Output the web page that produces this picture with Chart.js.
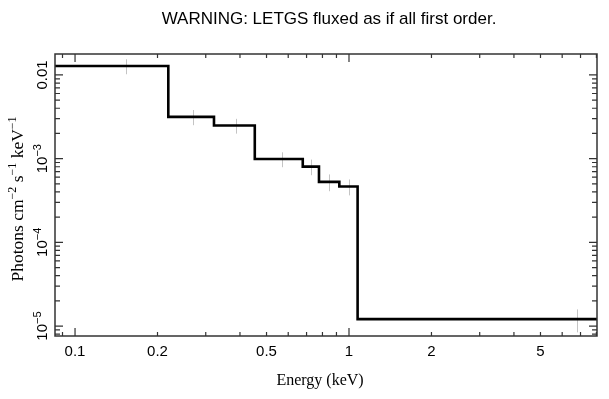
<!DOCTYPE html>
<html>
<head>
<meta charset="utf-8">
<script src="https://cdn.jsdelivr.net/npm/chart.js@4/dist/chart.umd.min.js"></script>
<style>
  html, body { margin: 0; padding: 0; background: #fff; }
</style>
</head>
<body>
<canvas id="chart" width="609" height="399"></canvas>
<script>
// model step: bin edges (keV) and flux level in each bin
const binEdges = [0.08, 0.219, 0.3215, 0.453, 0.678, 0.777, 0.922, 1.075, 9.0];
const modelFlux = [0.0128, 0.00316, 0.00249, 0.00099, 0.000804, 0.000528, 0.000464, 1.21e-5];

// data points (grey crosses)
const dataEnergy = [0.154, 0.270, 0.387, 0.568, 0.729, 0.848, 1.0, 6.77];
const dataFlux = [0.0128, 0.00316, 0.00249, 0.00099, 0.000804, 0.000528, 0.000464, 1.21e-5];
const dataErr = [0.0026, 0.00065, 0.0005, 0.0002, 0.00017, 0.00012, 0.0001, 0.0000037];

// tick labels
const xTickValues = [0.1, 0.2, 0.5, 1, 2, 5];
const xTickLabels = ["0.1", "0.2", "0.5", "1", "2", "5"];
const yTickValues = [0.01, 1e-3, 1e-4, 1e-5];
const yTickLabels = ["0.01", "10^{−3}", "10^{−4}", "10^{−5}"];

const TITLE = "WARNING: LETGS fluxed as if all first order.";
const X_TITLE = "Energy (keV)";
const Y_TITLE = "Photons cm^{−2} s^{−1} keV^{−1}";

const SANS = '"Liberation Sans", Arial, sans-serif';
const SERIF = '"Liberation Serif", "Times New Roman", serif';

// split "a^{b}c" into [[text, isSup], ...]
function parseRich(str) {
  const parts = [];
  const re = /\^\{([^}]*)\}/g;
  let last = 0, m;
  while ((m = re.exec(str)) !== null) {
    if (m.index > last) parts.push([str.slice(last, m.index), false]);
    parts.push([m[1], true]);
    last = re.lastIndex;
  }
  if (last < str.length) parts.push([str.slice(last), false]);
  return parts;
}

// draws centered on local x = 0, baseline at local y = 0
function drawRich(ctx, str, size, family) {
  const parts = parseRich(str);
  const supSize = Math.round(size * 0.7);
  let w = 0;
  parts.forEach(([t, sup]) => {
    ctx.font = (sup ? supSize : size) + "px " + family;
    w += ctx.measureText(t).width;
  });
  let x = -w / 2;
  ctx.textAlign = "left";
  ctx.textBaseline = "alphabetic";
  parts.forEach(([t, sup]) => {
    ctx.font = (sup ? supSize : size) + "px " + family;
    ctx.fillText(t, x, sup ? -size * 0.4 : 0);
    x += ctx.measureText(t).width;
  });
}

function logTicks(scale, cb) {
  const lo = Math.floor(Math.log10(scale.min));
  const hi = Math.ceil(Math.log10(scale.max));
  for (let d = lo; d <= hi; d++) {
    for (let m = 1; m <= 9; m++) {
      const v = m * Math.pow(10, d);
      if (v < scale.min || v > scale.max) continue;
      cb(scale.getPixelForValue(v), m === 1);
    }
  }
}

const errorBars = {
  id: "errorBars",
  beforeDatasetsDraw(chart) {
    const { ctx, scales: { x, y }, chartArea } = chart;
    ctx.save();
    ctx.beginPath();
    ctx.rect(chartArea.left, chartArea.top, chartArea.width, chartArea.height);
    ctx.clip();
    ctx.strokeStyle = "#c4c4c4";
    ctx.lineWidth = 1;
    dataEnergy.forEach((e, i) => {
      const px = Math.round(x.getPixelForValue(e)) + 0.5;
      const y1 = y.getPixelForValue(dataFlux[i] + dataErr[i]);
      const y2 = y.getPixelForValue(dataFlux[i] - dataErr[i]);
      ctx.beginPath();
      ctx.moveTo(px, y1);
      ctx.lineTo(px, y2);
      ctx.stroke();
    });
    ctx.restore();
  }
};

const frame = {
  id: "frame",
  afterDraw(chart) {
    const { ctx, scales: { x, y }, chartArea: a } = chart;
    ctx.save();
    ctx.strokeStyle = "#333";
    ctx.lineWidth = 1.5;
    ctx.strokeRect(a.left, a.top, a.right - a.left, a.bottom - a.top);

    ctx.lineWidth = 1.2;
    ctx.beginPath();
    logTicks(x, (p, major) => {
      const len = major ? 8 : 4;
      ctx.moveTo(p, a.bottom); ctx.lineTo(p, a.bottom - len);
      ctx.moveTo(p, a.top); ctx.lineTo(p, a.top + len);
    });
    logTicks(y, (p, major) => {
      const len = major ? 8 : 5;
      ctx.moveTo(a.left, p); ctx.lineTo(a.left + len, p);
      ctx.moveTo(a.right, p); ctx.lineTo(a.right - len, p);
    });
    ctx.stroke();

    ctx.fillStyle = "#000";
    // x tick labels
    ctx.font = "15px " + SANS;
    ctx.textAlign = "center";
    ctx.textBaseline = "alphabetic";
    xTickValues.forEach((v, i) => {
      ctx.fillText(xTickLabels[i], x.getPixelForValue(v), 356);
    });
    // y tick labels, rotated
    yTickValues.forEach((v, i) => {
      ctx.save();
      ctx.translate(47, y.getPixelForValue(v));
      ctx.rotate(-Math.PI / 2);
      drawRich(ctx, yTickLabels[i], 15, SANS);
      ctx.restore();
    });
    // axis titles
    ctx.save();
    ctx.translate(320, 385);
    drawRich(ctx, X_TITLE, 16, SERIF);
    ctx.restore();
    ctx.save();
    ctx.translate(23, 199);
    ctx.rotate(-Math.PI / 2);
    drawRich(ctx, Y_TITLE, 17.5, SERIF);
    ctx.restore();
    // title
    ctx.save();
    ctx.translate(329, 24);
    drawRich(ctx, TITLE, 17, SANS);
    ctx.restore();
    ctx.restore();
  }
};

const stepData = binEdges.map((e, i) => ({ x: e, y: modelFlux[Math.min(i, modelFlux.length - 1)] }));

new Chart(document.getElementById("chart").getContext("2d"), {
  type: "line",
  data: {
    datasets: [
      {
        label: "model",
        data: stepData,
        stepped: "before",
        borderColor: "#000",
        borderWidth: 2.6,
        borderJoinStyle: "miter",
        pointRadius: 0,
        fill: false,
      },
    ],
  },
  options: {
    responsive: false,
    animation: false,
    layout: {
      padding: { left: 55, right: 12, top: 54, bottom: 63 },
    },
    scales: {
      x: { type: "logarithmic", min: 0.0845, max: 8.04, display: false },
      y: { type: "logarithmic", min: 7.6e-6, max: 0.0178, display: false },
    },
    plugins: {
      legend: { display: false },
      tooltip: { enabled: false },
    },
  },
  plugins: [errorBars, frame],
});
</script>
</body>
</html>
